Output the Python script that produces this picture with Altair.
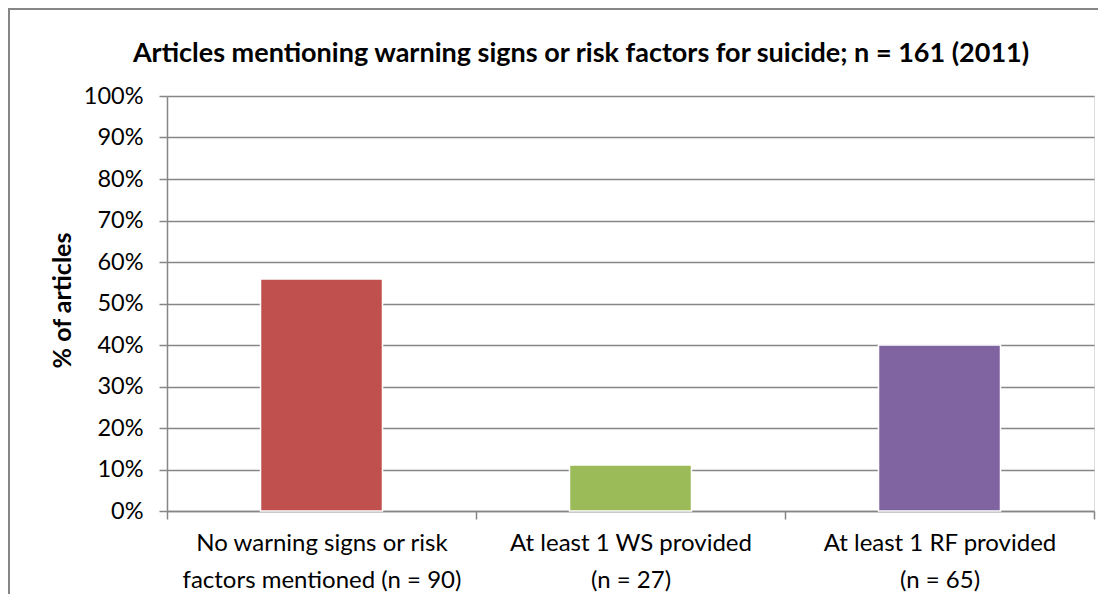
import altair as alt
import pandas as pd

categories = [
    "No warning signs or risk\nfactors mentioned (n = 90)",
    "At least 1 WS provided\n(n = 27)",
    "At least 1 RF provided\n(n = 65)",
]
values = [0.559, 0.111, 0.400]
colors = ["#C0504D", "#9BBB59", "#8064A2"]
y_ticks = [i / 10 for i in range(11)]

title_text = "Articles mentioning warning signs or risk factors for suicide; n = 161 (2011)"

FONT = "Lato"
GRID = "#868686"
W, H = 927, 415

df = pd.DataFrame({"category": categories, "value": values})

bars = alt.Chart(df).mark_bar(size=122, stroke="white", strokeWidth=1.5).encode(
    x=alt.X(
        "category:N",
        sort=categories,
        scale=alt.Scale(paddingInner=0, paddingOuter=0),
        axis=alt.Axis(
            title=None,
            labelAngle=0,
            labelExpr="split(datum.label, '\\n')",
            labelFont=FONT,
            labelFontSize=24,
            labelColor="black",
            labelLimit=0,
            labelLineHeight=37,
            labelPadding=12,
            tickBand="extent",
            tickSize=8,
            tickColor=GRID,
            tickWidth=1.5,
            domainColor=GRID,
            domainWidth=1.5,
            grid=False,
        ),
    ),
    y=alt.Y(
        "value:Q",
        scale=alt.Scale(domain=[0, 1], nice=False),
        axis=alt.Axis(
            title="% of articles",
            titleFont=FONT,
            titleFontSize=25,
            titleFontWeight="bold",
            titleColor="black",
            titleX=-105,
            titleY=204,
            titleAngle=-90,
            titleAlign="center",
            titleBaseline="middle",
            values=y_ticks,
            format=".0%",
            labelFont=FONT,
            labelFontSize=23.5,
            labelColor="black",
            labelPadding=16,
            tickSize=8,
            tickColor=GRID,
            tickWidth=1.5,
            domainColor=GRID,
            domainWidth=1.5,
            grid=True,
            gridColor=GRID,
            gridWidth=1.5,
        ),
    ),
    color=alt.Color(
        "category:N",
        scale=alt.Scale(domain=categories, range=colors),
        legend=None,
    ),
)

border = alt.Chart(pd.DataFrame({"a": [0]})).mark_rect(
    filled=False, stroke=GRID, strokeWidth=2
).encode(
    x=alt.value(-158),
    x2=alt.value(W + 100),
    y=alt.value(-87),
    y2=alt.value(H + 200),
)

title = alt.Chart(pd.DataFrame({"t": [title_text]})).mark_text(
    font=FONT, fontSize=27, fontWeight="bold", color="black",
    align="center", baseline="middle",
).encode(
    text="t:N",
    x=alt.value(414),
    y=alt.value(-42),
)

chart = alt.layer(border, bars, title).properties(
    width=W,
    height=H,
    padding={"left": 159, "top": 88, "right": 4, "bottom": 83},
    autosize=alt.AutoSizeParams(type="none"),
).configure_view(stroke=None).configure(background="white")

chart.save("out.html", embed_options={"renderer": "svg", "actions": False})
